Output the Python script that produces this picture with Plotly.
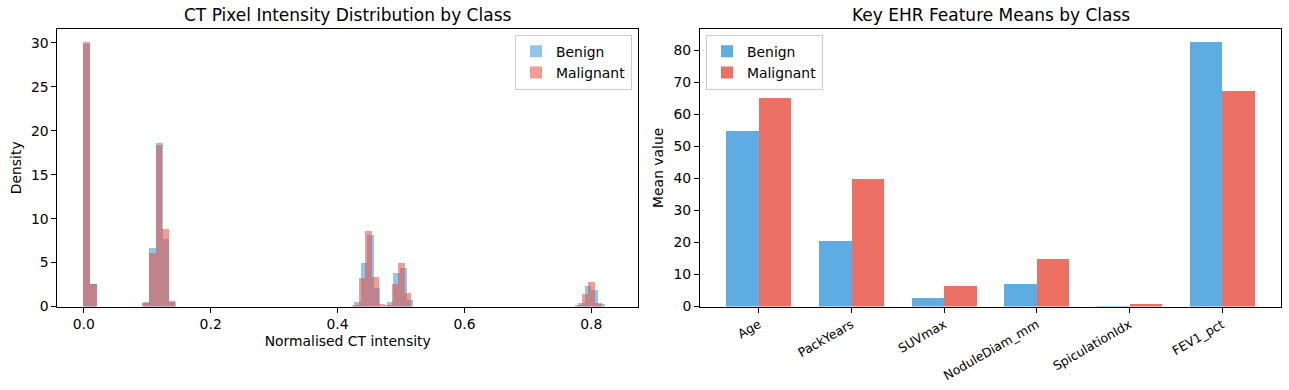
import plotly.graph_objects as go

# ---------------- Data ----------------
# Left: density histograms (bin index -> density), bins start at 0
BENIGN_BIN_WIDTH = 0.0104
MALIGNANT_BIN_WIDTH = 0.01034
benign_bins = [0, 1, 9, 10, 11, 12, 13, 41, 42, 43, 44, 46, 47, 48, 49, 75, 76, 77, 78]
benign_density = [29.85, 2.6, 0.5, 6.7, 18.6, 7.7, 0.5, 0.57, 5.0, 8.1, 2.06,
                  0.57, 3.78, 4.35, 0.8, 0.46, 2.35, 1.9, 0.3]
malignant_bins = [0, 1, 9, 10, 11, 12, 13, 41, 42, 43, 44, 45, 46, 47, 48, 49, 75, 76, 77, 78]
malignant_density = [30.07, 2.6, 0.4, 6.1, 18.4, 8.8, 0.6, 0.2, 3.3, 8.6, 3.4,
                     0.35, 0.2, 2.6, 5.0, 1.6, 0.2, 1.45, 2.75, 0.45]
ct_ticks = [0.0, 0.2, 0.4, 0.6, 0.8]

# Right: EHR feature means
features = ["Age", "PackYears", "SUVmax", "NoduleDiam_mm", "SpiculationIdx", "FEV1_pct"]
benign_means = [54.8, 20.6, 2.6, 7.0, 0.2, 82.6]
malignant_means = [65.2, 40.0, 6.4, 14.9, 0.7, 67.4]

# ---------------- Style ----------------
FONT = "DejaVu Sans"
FS = 13.9
BLUE_HIST = "rgba(52,152,219,0.55)"
RED_HIST = "rgba(231,76,60,0.55)"
BLUE_BAR = "rgba(52,152,219,0.8)"
RED_BAR = "rgba(231,76,60,0.8)"
W, H = 1289, 390

def px_x(p):
    return p / W

def px_y(p):
    return 1 - p / H

fig = go.Figure()

# Left histograms
fig.add_trace(go.Bar(
    x=[(k + 0.5) * BENIGN_BIN_WIDTH for k in benign_bins], y=benign_density,
    width=BENIGN_BIN_WIDTH, marker=dict(color=BLUE_HIST, line=dict(width=0)),
    name="Benign", xaxis="x", yaxis="y", legend="legend"))
fig.add_trace(go.Bar(
    x=[(k + 0.5) * MALIGNANT_BIN_WIDTH for k in malignant_bins], y=malignant_density,
    width=MALIGNANT_BIN_WIDTH, marker=dict(color=RED_HIST, line=dict(width=0)),
    name="Malignant", xaxis="x", yaxis="y", legend="legend"))

# Right grouped bars
bw = 0.35
idx = list(range(len(features)))
fig.add_trace(go.Bar(
    x=[i - bw / 2 for i in idx], y=benign_means, width=bw,
    marker=dict(color=BLUE_BAR, line=dict(width=0)),
    name="Benign", xaxis="x2", yaxis="y2", legend="legend2"))
fig.add_trace(go.Bar(
    x=[i + bw / 2 for i in idx], y=malignant_means, width=bw,
    marker=dict(color=RED_BAR, line=dict(width=0)),
    name="Malignant", xaxis="x2", yaxis="y2", legend="legend2"))

axis_common = dict(showline=True, linecolor="black", linewidth=1, mirror=True,
                   ticks="outside", ticklen=5, tickcolor="black", showgrid=False,
                   zeroline=False, tickfont=dict(size=FS, color="black"))

ydom = [px_y(313), px_y(29.6)]
x1max = 80 * BENIGN_BIN_WIDTH
fig.update_layout(
    width=W, height=H, margin=dict(l=0, r=0, t=0, b=0),
    paper_bgcolor="white", plot_bgcolor="white",
    font=dict(family=FONT, size=FS, color="black"),
    barmode="overlay", bargap=0,
    xaxis=dict(domain=[px_x(57.4), px_x(638)], anchor="y",
               range=[-0.05 * x1max, 1.05 * x1max],
               tickvals=ct_ticks, tickformat=".1f",
               title=dict(text="Normalised CT intensity", font=dict(size=FS), standoff=5),
               **axis_common),
    yaxis=dict(domain=ydom, anchor="x", range=[0, max(malignant_density) * 1.05],
               dtick=5, title=dict(text="Density", font=dict(size=FS), standoff=6),
               **axis_common),
    xaxis2=dict(domain=[px_x(700), px_x(1281)], anchor="y2",
                range=[-0.35 - 0.285, 5.35 + 0.285],
                tickvals=idx, ticktext=features, tickangle=-30,
                **{**axis_common, "tickfont": dict(size=12.5, color="black")}),
    yaxis2=dict(domain=ydom, anchor="x2", range=[0, max(benign_means) * 1.05],
                dtick=10, title=dict(text="Mean value", font=dict(size=FS), standoff=6),
                **axis_common),
    legend=dict(x=px_x(632), y=px_y(35.5), xanchor="right", yanchor="top",
                bgcolor="rgba(255,255,255,0.8)", bordercolor="#cccccc", borderwidth=1,
                font=dict(size=FS), tracegroupgap=2),
    legend2=dict(x=px_x(706), y=px_y(35.5), xanchor="left", yanchor="top",
                 bgcolor="rgba(255,255,255,0.8)", bordercolor="#cccccc", borderwidth=1,
                 font=dict(size=FS), tracegroupgap=2),
    annotations=[
        dict(text="CT Pixel Intensity Distribution by Class", x=px_x(347.7), y=px_y(15.5),
             xref="paper", yref="paper", showarrow=False, font=dict(size=17),
             xanchor="center", yanchor="middle"),
        dict(text="Key EHR Feature Means by Class", x=px_x(990.5), y=px_y(15.5),
             xref="paper", yref="paper", showarrow=False, font=dict(size=17),
             xanchor="center", yanchor="middle"),
    ],
)

fig.write_html("out.html", config={"displayModeBar": False},
               post_script="document.body.style.margin='0px';")
